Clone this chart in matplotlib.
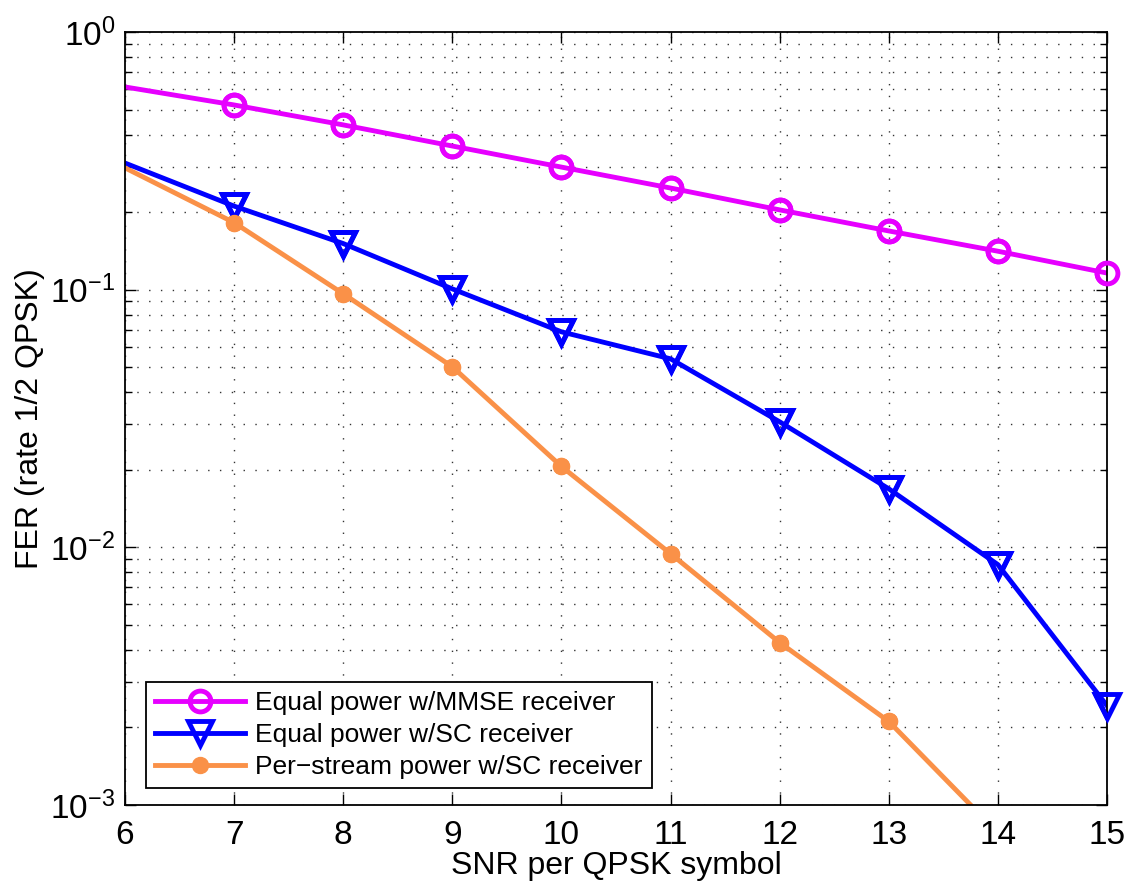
import matplotlib
matplotlib.use("Agg")
import matplotlib.pyplot as plt
from matplotlib.ticker import LogLocator, NullFormatter, FixedLocator

plt.rcParams['font.family'] = ['Liberation Sans', 'DejaVu Sans']
plt.rcParams['mathtext.fontset'] = 'custom'
plt.rcParams['mathtext.rm'] = 'Liberation Sans'
plt.rcParams['mathtext.it'] = 'Liberation Sans'
plt.rcParams['mathtext.default'] = 'regular'

snr = [6, 7, 8, 9, 10, 11, 12, 13, 14, 15]
fer_mmse = [0.612, 0.521, 0.436, 0.361, 0.299, 0.248, 0.204, 0.169, 0.141, 0.116]
fer_sc = [0.310, 0.211, 0.151, 0.1007, 0.0686, 0.0539, 0.0307, 0.01687, 0.00857, 0.00243]
fer_ps = [0.297, 0.182, 0.0964, 0.0502, 0.0206, 0.00945, 0.00427, 0.00211, 0.00078]

labels = ["Equal power w/MMSE receiver",
          "Equal power w/SC receiver",
          "Per\u2212stream power w/SC receiver"]

fig = plt.figure(figsize=(11.28, 8.84), dpi=100)
ax = fig.add_axes([125/1128, 79/884, 982/1128, 773/884])

ymin, ymax = 1e-3, 1.0

series = [
    (snr, fer_mmse, dict(color='#E600FF', marker='o', ms=15, mew=3.5, mfc='none')),
    (snr, fer_sc, dict(color='#0000FF', marker='v', ms=17, mew=3.5, mfc='none')),
    (snr[:len(fer_ps)], fer_ps, dict(color='#FA9148', marker='o', ms=11.5, mew=1, mfc='#FA9148')),
]
for (xs, ys, st), lab in zip(series, labels):
    ax.plot(xs, ys, lw=3.5, label=lab, markevery=list(range(1, len(xs))), **st)
    vis = [i for i in range(1, len(xs)) if ymin <= ys[i] <= ymax]
    ax.plot(xs, ys, lw=0, markevery=vis, clip_on=False, zorder=3, **st)

ax.set_yscale('log')
ax.set_xlim(6, 15)
ax.set_ylim(ymin, ymax)
ax.xaxis.set_major_locator(FixedLocator(snr))
ax.yaxis.set_major_locator(LogLocator(base=10, numticks=10))
ax.yaxis.set_minor_locator(LogLocator(base=10, subs=range(2, 10), numticks=20))
ax.yaxis.set_minor_formatter(NullFormatter())

ax.grid(True, which='major', axis='both', color='0.2', lw=1, dashes=(1, 7.5))
ax.grid(True, which='minor', axis='y', color='0.2', lw=1, dashes=(1, 7.5))

ax.tick_params(which='both', direction='in', top=True, right=True,
               labelsize=24, width=1, color='black')
ax.tick_params(which='major', length=8)
ax.tick_params(axis='x', which='major', pad=11)
ax.tick_params(axis='y', which='major', pad=7)
ax.tick_params(which='minor', length=5)
for s in ax.spines.values():
    s.set_linewidth(1.3)

ax.set_xlabel("SNR per QPSK symbol", fontsize=23, labelpad=0)
ax.set_ylabel("FER (rate 1/2 QPSK)", fontsize=23, labelpad=4)

leg = ax.legend(loc='lower left', bbox_to_anchor=(0.021, 0.022), borderaxespad=0,
                fontsize=19, handlelength=3.4, handletextpad=0.4,
                labelspacing=0.3, borderpad=0.35, fancybox=False,
                framealpha=1, edgecolor='black')
leg.get_frame().set_linewidth(1.3)

fig.savefig("out.png", dpi=100)
